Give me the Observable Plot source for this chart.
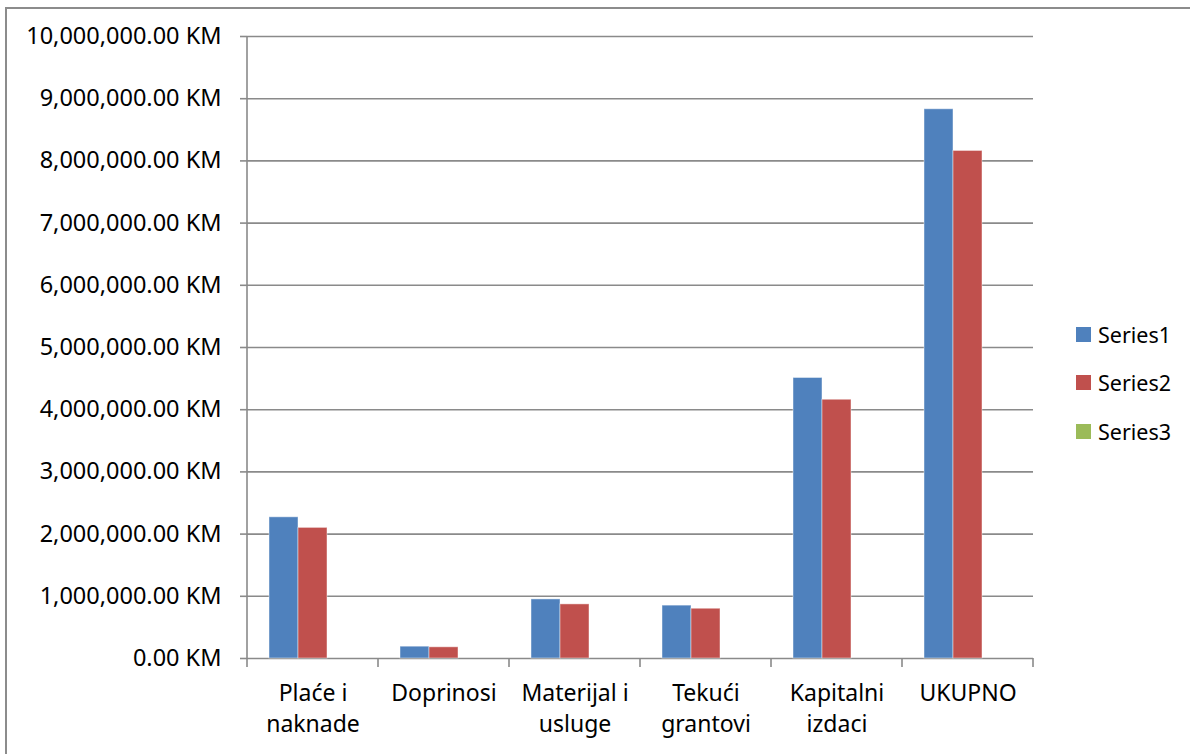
<!DOCTYPE html>
<html>
<head>
<meta charset="utf-8">
<script src="https://cdn.jsdelivr.net/npm/d3@7"></script>
<script src="https://cdn.jsdelivr.net/npm/@observablehq/plot@0.6"></script>
<style>
  html, body { margin: 0; padding: 0; background: #fff; }
  #wrap { position: relative; width: 1190px; height: 754px; overflow: hidden; font-family: "Noto Sans", sans-serif; }
  #border { position: absolute; left: 5px; top: 7px; width: 1200px; height: 760px; border-left: 2px solid #8c8c8c; border-top: 2px solid #8c8c8c; box-sizing: border-box; }
  #legend { position: absolute; left: 1076px; top: 310px; font-size: 21.5px; color: #000; }
  .item { display: flex; align-items: center; height: 48.5px; }
  .sw { width: 15px; height: 15px; margin-right: 7px; }
  #chart { position: absolute; left: 0; top: 0; }
</style>
</head>
<body>
<div id="wrap">
  <div id="border"></div>
  <div id="chart"></div>
  <div id="legend"></div>
</div>
<script>
const categories = ["Plaće i naknade", "Doprinosi", "Materijal i usluge", "Tekući grantovi", "Kapitalni izdaci", "UKUPNO"];
const categoryLabels = ["Plaće i\nnaknade", "Doprinosi", "Materijal i\nusluge", "Tekući\ngrantovi", "Kapitalni\nizdaci", "UKUPNO"];
const seriesNames = ["Series1", "Series2", "Series3"];
const series1 = [2270000, 190000, 950000, 850000, 4510000, 8830000];
const series2 = [2100000, 180000, 870000, 800000, 4160000, 8160000];
const series3 = [null, null, null, null, null, null];
const seriesColors = ["#4F81BD", "#C0504D", "#9BBB59"];
const yTicks = [0, 1000000, 2000000, 3000000, 4000000, 5000000, 6000000, 7000000, 8000000, 9000000, 10000000];

const allSeries = [series1, series2, series3];
const data = [];
allSeries.forEach((vals, si) => {
  vals.forEach((v, ci) => {
    if (v != null) data.push({category: categories[ci], series: seriesNames[si], value: v});
  });
});
const labelOf = new Map(categories.map((c, i) => [c, categoryLabels[i]]));
const fmt = d3.format(",.2f");
const gridColor = "#8a8a8a";

const chart = Plot.plot({
  width: 1190,
  height: 754,
  marginLeft: 246,
  marginRight: 156,
  marginTop: 36,
  marginBottom: 96,
  style: {fontFamily: "'Noto Sans', sans-serif", background: "transparent"},
  fx: {domain: categories, padding: 0, label: null},
  x: {domain: seriesNames, paddingInner: 0, paddingOuter: 0.75, axis: null},
  y: {domain: [0, 10000000], label: null},
  color: {domain: seriesNames, range: seriesColors},
  marks: [
    Plot.ruleY(yTicks, {stroke: gridColor, strokeWidth: 1.6}),
    Plot.barY(data, {fx: "category", x: "series", y: "value", fill: "series", stroke: "#ffffff", strokeOpacity: 0.45, strokeWidth: 1}),
    Plot.axisY({ticks: yTicks, tickSize: 7, tickPadding: 19, fontSize: 23.5, stroke: gridColor, strokeWidth: 1.6, tickFormat: d => fmt(d) + " KM", fill: "#000"}),
    Plot.axisFx({anchor: "bottom", tickSize: 0, tickPadding: 20, fontSize: 23, lineHeight: 1.37, tickFormat: d => labelOf.get(d), fill: "#000"})
  ]
});
document.getElementById("chart").appendChild(chart);

// y-axis line and category separator ticks from the library's scales
const fxS = chart.scale("fx");
const yS = chart.scale("y");
const svg = d3.select(chart);
const y0 = yS.apply(0), y1 = yS.apply(10000000);
const left = fxS.apply(categories[0]);
const bw = fxS.bandwidth;
svg.append("line").attr("x1", left).attr("x2", left).attr("y1", y1).attr("y2", y0 + 9)
  .attr("stroke", gridColor).attr("stroke-width", 1.6);
categories.forEach(c => {
  const xe = fxS.apply(c) + bw;
  svg.append("line").attr("x1", xe).attr("x2", xe).attr("y1", y0).attr("y2", y0 + 9)
    .attr("stroke", gridColor).attr("stroke-width", 1.6);
});

const legend = document.getElementById("legend");
seriesNames.forEach((s, i) => {
  const item = document.createElement("div");
  item.className = "item";
  item.innerHTML = `<div class="sw" style="background:${seriesColors[i]}"></div><span>${s}</span>`;
  legend.appendChild(item);
});
</script>
</body>
</html>
